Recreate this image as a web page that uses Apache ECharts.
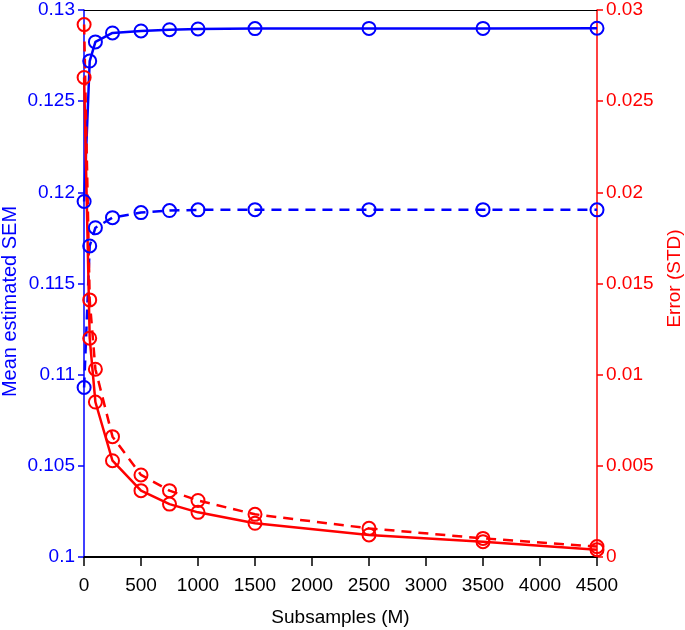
<!DOCTYPE html>
<html>
<head>
<meta charset="utf-8">
<script src="https://cdn.jsdelivr.net/npm/echarts@6/dist/echarts.min.js"></script>
<style>html,body{margin:0;padding:0;background:#fff;}#c{width:685px;height:630px;}</style>
</head>
<body>
<div id="c"></div>
<script>
var subsamples = [1, 50, 100, 250, 500, 750, 1000, 1500, 2500, 3500, 4500];
var semSolid  = [0.1195, 0.1272, 0.12825, 0.12874, 0.12885, 0.12892, 0.12896, 0.12898, 0.12899, 0.12899, 0.129];
var semDashed = [0.1093, 0.11706, 0.11806, 0.11861, 0.11889, 0.119, 0.11904, 0.11905, 0.11905, 0.11905, 0.11904];
var errDashed = [0.0292, 0.0141, 0.0103, 0.0066, 0.0045, 0.00364, 0.0031, 0.00234, 0.00157, 0.00102, 0.00057];
var errSolid  = [0.0263, 0.0120, 0.0085, 0.00528, 0.00364, 0.0029, 0.00245, 0.00185, 0.00121, 0.00084, 0.0004];

function pairs(ys){ return subsamples.map(function(x,i){ return [x, ys[i]]; }); }

var BLUE = '#0000ff', RED = '#ff0000';
var FONT = 'Liberation Sans, Arial, Helvetica, sans-serif';

function mkSeries(ys, color, dashed, yIdx){
  return {
    type: 'line', xAxisIndex: 0, yAxisIndex: yIdx,
    data: pairs(ys), clip: false,
    symbol: 'circle', symbolSize: 13,
    itemStyle: {color: 'rgba(0,0,0,0)', borderColor: color, borderWidth: 2},
    lineStyle: {color: color, width: 2.5, type: dashed ? [10, 7] : 'solid'},
    emphasis: {disabled: true}, animation: false
  };
}

var chart = echarts.init(document.getElementById('c'));
chart.setOption({
  backgroundColor: '#fff',
  animation: false,
  grid: {left: 84, right: 88, top: 10, bottom: 73, outerBoundsMode: 'none', containLabel: false},
  xAxis: [{
    type: 'value', min: 0, max: 4500, interval: 500,
    name: 'Subsamples (M)', nameLocation: 'middle', nameGap: 51, nameMoveOverlap: false,
    nameTextStyle: {color: '#000', fontSize: 19, fontFamily: FONT},
    axisLine: {show: true, onZero: false, lineStyle: {color: '#000', width: 2}},
    axisTick: {show: true, inside: false, length: 9, lineStyle: {color: '#000', width: 1.5}},
    axisLabel: {color: '#000', fontSize: 19, fontFamily: FONT, margin: 19, formatter: function(v){ return String(v); }},
    splitLine: {show: false}
  }, {
    type: 'value', min: 0, max: 4500, position: 'top',
    axisLine: {show: true, onZero: false, lineStyle: {color: '#000', width: 1.2}},
    axisTick: {show: false}, axisLabel: {show: false}, splitLine: {show: false}
  }],
  yAxis: [{
    type: 'value', min: 0.1, max: 0.13, interval: 0.005, position: 'left',
    name: 'Mean estimated SEM', nameLocation: 'middle', nameGap: 64, nameRotate: 90, nameMoveOverlap: false,
    nameTextStyle: {color: BLUE, fontSize: 20, fontFamily: FONT, padding: [0, 36, 0, 0]},
    axisLine: {show: true, onZero: false, lineStyle: {color: BLUE, width: 1.5}},
    axisTick: {show: true, inside: false, length: 6, lineStyle: {color: BLUE, width: 1.5}},
    axisLabel: {color: BLUE, fontSize: 19, fontFamily: FONT, margin: 9},
    splitLine: {show: false}
  }, {
    type: 'value', min: 0, max: 0.03, interval: 0.005, position: 'right',
    name: 'Error (STD)', nameLocation: 'middle', nameGap: 68, nameRotate: 90, nameMoveOverlap: false,
    nameTextStyle: {color: RED, fontSize: 19, fontFamily: FONT, padding: [0, 0, 0, 10]},
    axisLine: {show: true, onZero: false, lineStyle: {color: RED, width: 1.5}},
    axisTick: {show: true, inside: false, length: 6, lineStyle: {color: RED, width: 1.5}},
    axisLabel: {color: RED, fontSize: 19, fontFamily: FONT, margin: 9},
    splitLine: {show: false}
  }],
  series: [
    mkSeries(semSolid, BLUE, false, 0),
    mkSeries(semDashed, BLUE, true, 0),
    mkSeries(errDashed, RED, true, 1),
    mkSeries(errSolid, RED, false, 1)
  ]
});
</script>
</body>
</html>
